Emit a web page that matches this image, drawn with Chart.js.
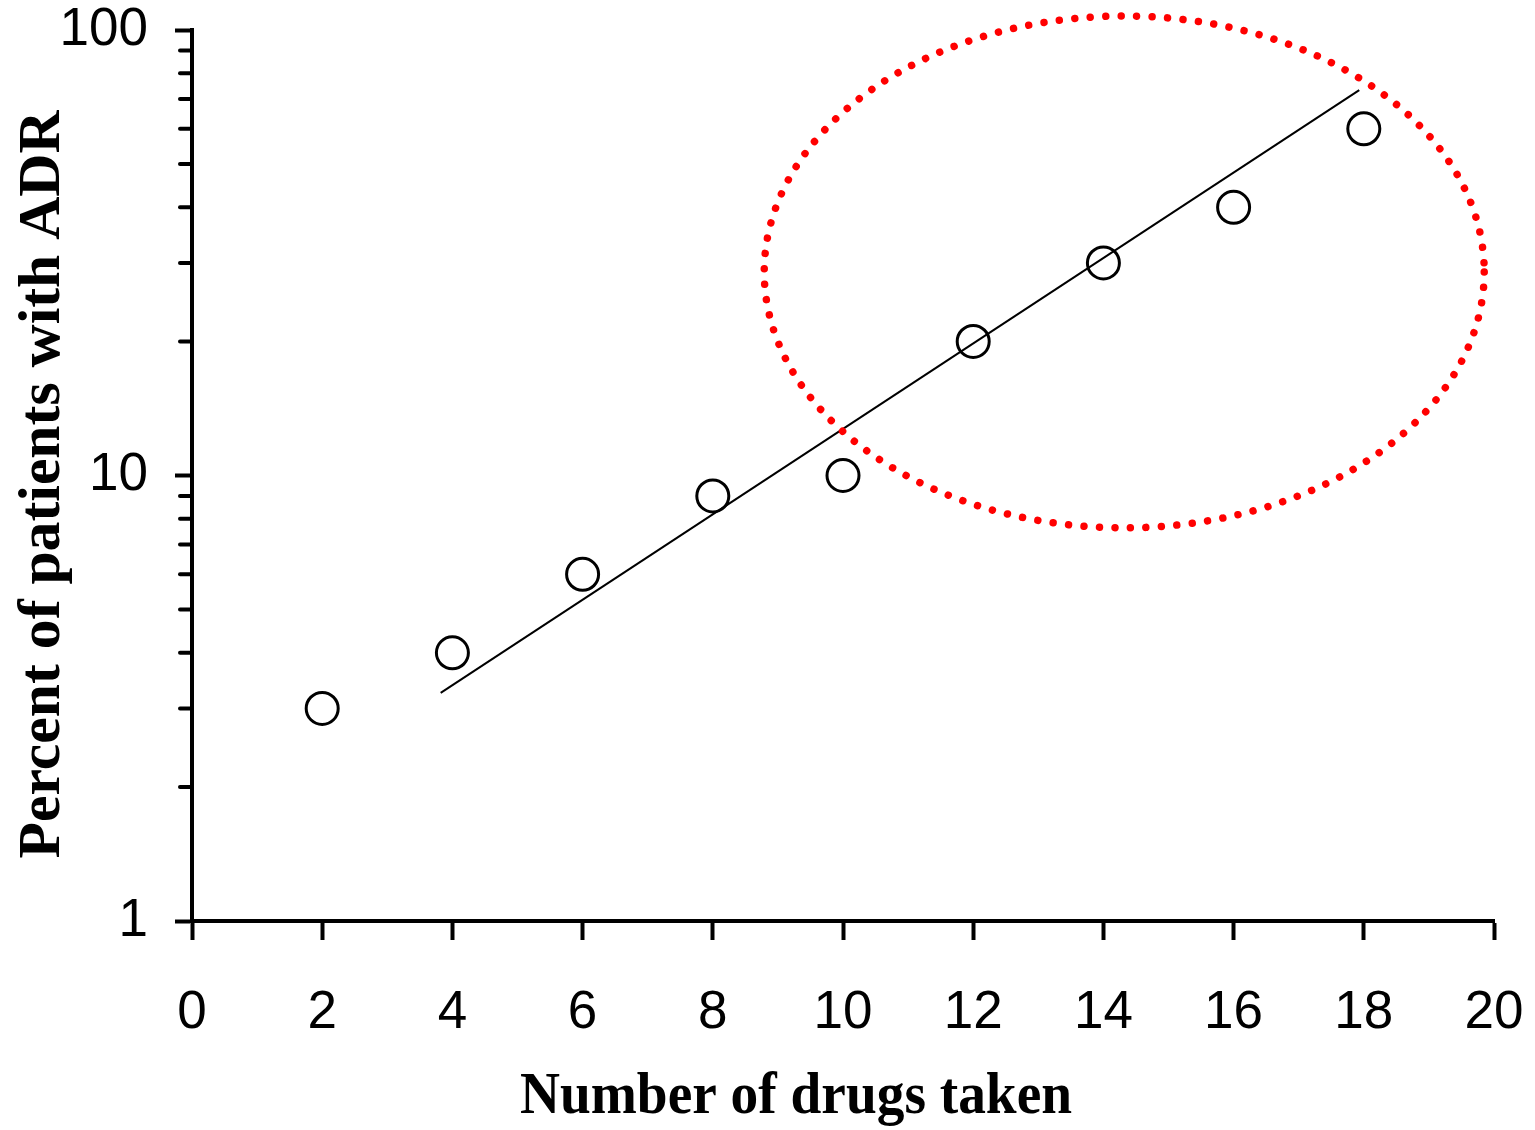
<!DOCTYPE html>
<html>
<head>
<meta charset="utf-8">
<script src="https://cdn.jsdelivr.net/npm/chart.js@4.4.1/dist/chart.umd.min.js"></script>
<style>
  html, body { margin: 0; padding: 0; background: #fff; }
  #wrap { width: 1535px; height: 1130px; }
</style>
</head>
<body>
<div id="wrap"><canvas id="chart" width="1535" height="1130"></canvas></div>
<script>
// data
const drugsTaken = [2, 4, 6, 8, 10, 12, 14, 16, 18];
const adrPercent = [3, 4, 6, 9, 10, 20, 30, 40, 60];
const fitX = [3.82, 17.93];
const fitY = [3.25, 73.3];
const yMajorTicks = [1, 10, 100];
const yMinorTicks = [2, 3, 4, 5, 6, 7, 8, 9, 20, 30, 40, 50, 60, 70, 80, 90];
// red dotted ellipse, extent in data units
const ellipseX = [8.79, 19.85];
const ellipseY = [7.63, 107.5];

const xTitle = 'Number of drugs taken';
const yTitle = 'Percent of patients with ADR';

const tickFont = { family: '"Liberation Sans", Arial, sans-serif', size: 53 };

// minor log ticks on the y axis (shorter than the major ones)
const minorTicksPlugin = {
  id: 'minorTicks',
  afterDraw(chart) {
    const ctx = chart.ctx;
    const y = chart.scales.y;
    const left = chart.chartArea.left;
    ctx.save();
    ctx.strokeStyle = '#000';
    ctx.lineWidth = 4;
    ctx.lineCap = 'round';
    yMinorTicks.forEach(v => {
      const py = y.getPixelForValue(v);
      ctx.beginPath();
      ctx.moveTo(left - 12, py);
      ctx.lineTo(left, py);
      ctx.stroke();
    });
    ctx.restore();
  }
};

const ellipsePlugin = {
  id: 'ellipse',
  afterDraw(chart) {
    const ctx = chart.ctx;
    const xs = chart.scales.x, ys = chart.scales.y;
    const x0 = xs.getPixelForValue(ellipseX[0]), x1 = xs.getPixelForValue(ellipseX[1]);
    const y0 = ys.getPixelForValue(ellipseY[0]), y1 = ys.getPixelForValue(ellipseY[1]);
    ctx.save();
    ctx.strokeStyle = '#ff0000';
    ctx.lineWidth = 7.5;
    ctx.lineCap = 'round';
    ctx.setLineDash([0.01, 15.5]);
    ctx.beginPath();
    ctx.ellipse((x0 + x1) / 2, (y0 + y1) / 2, Math.abs(x1 - x0) / 2, Math.abs(y1 - y0) / 2, 0, 0, Math.PI * 2);
    ctx.stroke();
    ctx.restore();
  }
};

// axis titles: bold serif, squeezed to the width seen in the picture
function fittedText(ctx, text, width) {
  const w = ctx.measureText(text).width;
  return width / w;
}

const titlesPlugin = {
  id: 'titles',
  afterDraw(chart) {
    const ctx = chart.ctx;
    const area = chart.chartArea;
    ctx.save();
    ctx.fillStyle = '#000';
    ctx.font = 'bold 60px "Liberation Serif", "Times New Roman", serif';
    ctx.textAlign = 'center';
    ctx.textBaseline = 'alphabetic';

    // x title
    let s = fittedText(ctx, xTitle, 552);
    ctx.save();
    ctx.translate((area.left + area.right) / 2 - 47, 1113);
    ctx.scale(s, 1);
    ctx.fillText(xTitle, 0, 0);
    ctx.restore();

    // y title
    s = fittedText(ctx, yTitle, 748);
    ctx.save();
    ctx.translate(59, (area.top + area.bottom) / 2 + 9);
    ctx.rotate(-Math.PI / 2);
    ctx.scale(s, 1);
    ctx.fillText(yTitle, 0, 0);
    ctx.restore();
    ctx.restore();
  }
};

new Chart(document.getElementById('chart'), {
  type: 'scatter',
  data: {
    datasets: [
      {
        label: 'ADR',
        data: drugsTaken.map((x, i) => ({ x: x, y: adrPercent[i] })),
        pointStyle: 'circle',
        pointRadius: 16,
        pointBorderWidth: 3,
        pointBorderColor: '#000',
        pointBackgroundColor: 'rgba(255,255,255,0)',
        showLine: false
      },
      {
        label: 'fit',
        type: 'line',
        data: fitX.map((x, i) => ({ x: x, y: fitY[i] })),
        borderColor: '#000',
        borderWidth: 2,
        pointRadius: 0,
        fill: false
      }
    ]
  },
  options: {
    responsive: false,
    animation: false,
    layout: { padding: { top: 30, right: 41, left: 0, bottom: 0 } },
    plugins: {
      legend: { display: false },
      tooltip: { enabled: false }
    },
    scales: {
      x: {
        type: 'linear',
        min: 0,
        max: 20,
        ticks: { stepSize: 2, font: tickFont, color: '#000', padding: 42, maxRotation: 0 },
        grid: { drawOnChartArea: false, drawTicks: true, tickLength: 19, tickWidth: 4, tickColor: '#000' },
        border: { display: true, color: '#000', width: 4 },
        afterFit(scale) {
          scale.height = 209;
          scale.paddingLeft = 0;
          scale.paddingRight = 0;
        }
      },
      y: {
        type: 'logarithmic',
        min: 1,
        max: 100,
        afterBuildTicks(scale) { scale.ticks = yMajorTicks.map(v => ({ value: v, major: true })); },
        ticks: {
          autoSkip: false,
          font: tickFont,
          color: '#000',
          padding: 27,
          callback: v => String(v)
        },
        grid: { drawOnChartArea: false, drawTicks: true, tickLength: 17, tickWidth: 4, tickColor: '#000' },
        border: { display: true, color: '#000', width: 4 },
        afterFit(scale) {
          scale.width = 192;
          scale.paddingTop = 0;
          scale.paddingBottom = 0;
        }
      }
    }
  },
  plugins: [minorTicksPlugin, ellipsePlugin, titlesPlugin]
});
</script>
</body>
</html>
